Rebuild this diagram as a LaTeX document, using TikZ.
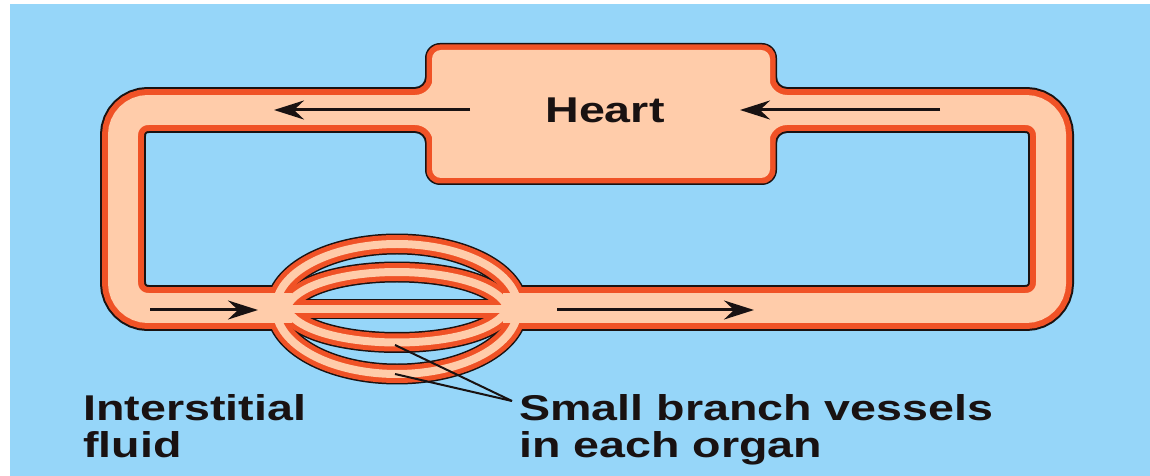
\documentclass[tikz,border=0pt]{standalone}
\usepackage{fontspec}
\setmainfont{Liberation Sans}
\usepackage{graphicx}
\usetikzlibrary{arrows.meta}
\definecolor{bgblue}{RGB}{150,214,249}
\definecolor{vred}{RGB}{240,82,38}
\definecolor{vpeach}{RGB}{255,204,170}
\definecolor{vblack}{RGB}{25,18,18}
% concave fillet where the tube meets the heart: X, Y, sx, sy, offset, colour
\newcommand\myfillet[6]{%
  \fill[#6] ({#1-(#3)*10},{#2+(#4)*#5}) -- ({#1+(#3)*#5},{#2+(#4)*#5})
    -- ({#1+(#3)*#5},{#2-(#4)*10})
    .. controls ({#1+(#3)*#5},{#2-(#4)*10+(#4)*0.5523*(10+#5)})
            and ({#1-(#3)*10+(#3)*0.5523*(10+#5)},{#2+(#4)*#5})
    .. cycle;}
\newcommand\vesselnet[6]{%
  % #1 colour, #2 tube width, #3 branch width, #4 heart inset, #5 heart corner, #6 fillet offset
  \fill[#1, rounded corners=#5] (425+#4,43+#4) rectangle (777-#4,185-#4);
  \myfillet{425}{87}{1}{1}{#6}{#1}
  \myfillet{425}{133}{1}{-1}{#6}{#1}
  \myfillet{777}{87}{-1}{1}{#6}{#1}
  \myfillet{777}{133}{-1}{-1}{#6}{#1}
  \draw[#1, line width=#2, rounded corners=0.5cm]
    (292,308) -- (123,308) -- (123,110) -- (1051,110) -- (1051,308) -- (503,308);
  \draw[#1, line width=#3]
    (276,308) .. controls (276,272.7) and (330.2,244) .. (397,244)
              .. controls (463.8,244) and (518,272.7) .. (518,308);
  \draw[#1, line width=#3]
    (276,308) .. controls (276,344.5) and (330.2,374) .. (397,374)
              .. controls (463.8,374) and (518,344.5) .. (518,308);
  \draw[#1, line width=#3]
    (286,308) .. controls (306,260) and (488,260) .. (508,308);
  \draw[#1, line width=#3]
    (286,308) .. controls (306,354) and (488,354) .. (508,308);
  \draw[#1, line width=#3] (286,309) -- (508,309);
}
\tikzset{
  flow/.style={line width=0.06cm, vblack, -{Stealth[length=0.6cm,width=0.38cm,inset=0.2cm]}},
  lbl/.style={inner sep=0pt, anchor=base west, font=\fontsize{20.4pt}{24pt}\selectfont\bfseries, text=vblack},
  leader/.style={line width=0.04cm, vblack}
}
\begin{document}
\begin{tikzpicture}[x=0.02cm, y=-0.02cm]
\useasboundingbox (0,0) rectangle (1150,476);
\fill[white] (0,0) rectangle (1150,476);
\fill[bgblue] (10,4) rectangle (1150,476);
% vessel network in three layers
\vesselnet{vblack}{0.92cm}{0.42cm}{0}{0.3cm}{0}
\vesselnet{vred}{0.84cm}{0.36cm}{1.5}{0.27cm}{2}
\vesselnet{vpeach}{0.60cm}{0.16cm}{7}{0.18cm}{8}
% heart label
\node[lbl, anchor=base] (heart) at (605,123) {\scalebox{1.3}[1]{Heart}};
% flow arrows
\coordinate (a1s) at (470,110); \coordinate (a1e) at (274,110);
\coordinate (a2s) at (940,110); \coordinate (a2e) at (740,110);
\coordinate (a3s) at (150,310); \coordinate (a3e) at (258,310);
\coordinate (a4s) at (557,310); \coordinate (a4e) at (754,310);
\draw[flow] (a1s) -- (a1e);
\draw[flow] (a2s) -- (a2e);
\draw[flow] (a3s) -- (a3e);
\draw[flow] (a4s) -- (a4e);
% labels
\node[lbl] (inter) at (83,420) {\scalebox{1.3}[1]{Interstitial}};
\node[lbl] (fluid) at (83,457) {\scalebox{1.3}[1]{fluid}};
\node[lbl] (small) at (519,420) {\scalebox{1.3}[1]{Small branch vessels}};
\node[lbl] (organ) at (519,457) {\scalebox{1.3}[1]{in each organ}};
% leader lines
\coordinate (v4) at (395,345);
\coordinate (v5) at (395,374);
\coordinate (tip) at (512,401);
\draw[leader] (v4) -- (tip);
\draw[leader] (v5) -- (tip);
\end{tikzpicture}
\end{document}
